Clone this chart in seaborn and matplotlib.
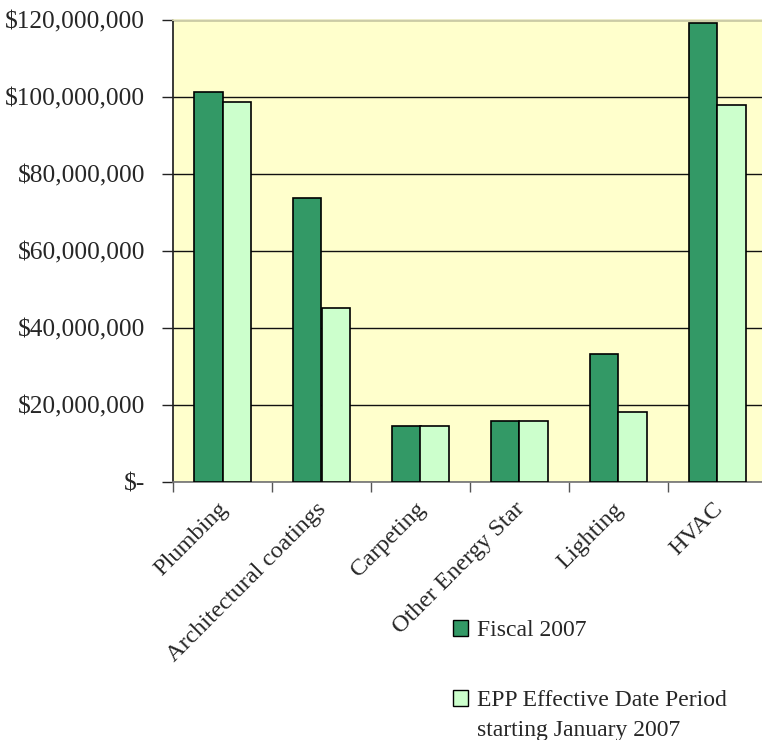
import matplotlib
matplotlib.use("Agg")
import matplotlib.pyplot as plt
from matplotlib.patches import Patch
from matplotlib.ticker import FuncFormatter, MultipleLocator
from matplotlib.transforms import ScaledTranslation
import numpy as np
import pandas as pd
import seaborn as sns

categories = ["Plumbing", "Architectural coatings", "Carpeting",
              "Other Energy Star", "Lighting", "HVAC"]
fiscal_2007 = [101.2e6, 73.8e6, 14.5e6, 15.8e6, 33.3e6, 119.2e6]
epp_period = [98.8e6, 45.1e6, 14.5e6, 15.8e6, 18.2e6, 97.9e6]
series_names = ["Fiscal 2007", "EPP Effective Date Period"]
series_note = "starting January 2007"
series_colors = ["#339966", "#CCFFCC"]

df = pd.DataFrame({
    "category": categories * 2,
    "series": [series_names[0]] * len(categories) + [series_names[1]] * len(categories),
    "value": fiscal_2007 + epp_period,
})

sns.set_theme(style="white")
plt.rcParams["font.family"] = ["Liberation Serif", "DejaVu Serif"]
W, H = 762, 740

fig = plt.figure(figsize=(W / 100, H / 100), dpi=100)
ax = fig.add_axes([173 / W, 1 - 482 / H, 594 / W, 462 / H])
ax.set_facecolor("#FFFFCC")

sns.barplot(data=df, x="category", y="value", hue="series",
            palette=series_colors, width=0.57, edgecolor="black",
            linewidth=1.2, saturation=1, ax=ax, legend=False, zorder=3)

ax.set_xlim(-0.5, len(categories) - 0.5)
ax.set_ylim(0, 120e6)
ax.yaxis.set_major_locator(MultipleLocator(20e6))
ax.yaxis.set_major_formatter(FuncFormatter(
    lambda v, _: "$-" if v == 0 else f"${v:,.0f}"))
ax.grid(axis="y", color="#111111", linewidth=1.0, zorder=0)
ax.set_axisbelow(True)
ax.set_xlabel("")
ax.set_ylabel("")

# category boundaries get the tick marks, centres get the labels
ax.set_xticks(np.arange(-0.5, len(categories) - 0.4, 1.0))
ax.set_xticklabels([])
ax.set_xticks(np.arange(len(categories)), minor=True)
ax.set_xticklabels(categories, minor=True, rotation=45, ha="right",
                   va="center_baseline", rotation_mode="anchor", fontsize=17.5)
shift = ScaledTranslation(-3 / 100, 0, fig.dpi_scale_trans)
for lab in ax.get_xticklabels(minor=True):
    lab.set_transform(lab.get_transform() + shift)
ax.tick_params(axis="x", which="minor", length=0, pad=16)
ax.tick_params(axis="x", which="major", length=7, width=1, color="#555555",
               direction="out", bottom=True)
ax.tick_params(axis="y", length=8, width=1, color="#222222",
               direction="out", left=True, labelsize=18.3, pad=12)

ax.spines["right"].set_visible(False)
ax.spines["top"].set_color("#E8E8C0")
ax.spines["left"].set_color("#222222")
ax.spines["bottom"].set_color("#777777")

LFS = 17
handles = [Patch(facecolor=c, edgecolor="black", linewidth=1.0)
           for c in series_colors]
leg = fig.legend(handles, series_names, loc="upper left",
                 bbox_to_anchor=(453 / W, 1 - 620 / H), frameon=False,
                 fontsize=LFS, handlelength=0.64, handleheight=0.64,
                 handletextpad=0.38, labelspacing=2.07, borderpad=0,
                 borderaxespad=0)

# second line of the EPP label, set under its first line
fig.canvas.draw()
renderer = fig.canvas.get_renderer()
bb = leg.get_texts()[1].get_window_extent(renderer)
x0, _ = fig.transFigure.inverted().transform((bb.x0, bb.y0))
yc = (bb.y0 + bb.y1) / 2 - 30
_, y1 = fig.transFigure.inverted().transform((0, yc))
fig.text(x0, y1, series_note, fontsize=LFS, ha="left", va="center")

fig.savefig("out.png", dpi=100)
